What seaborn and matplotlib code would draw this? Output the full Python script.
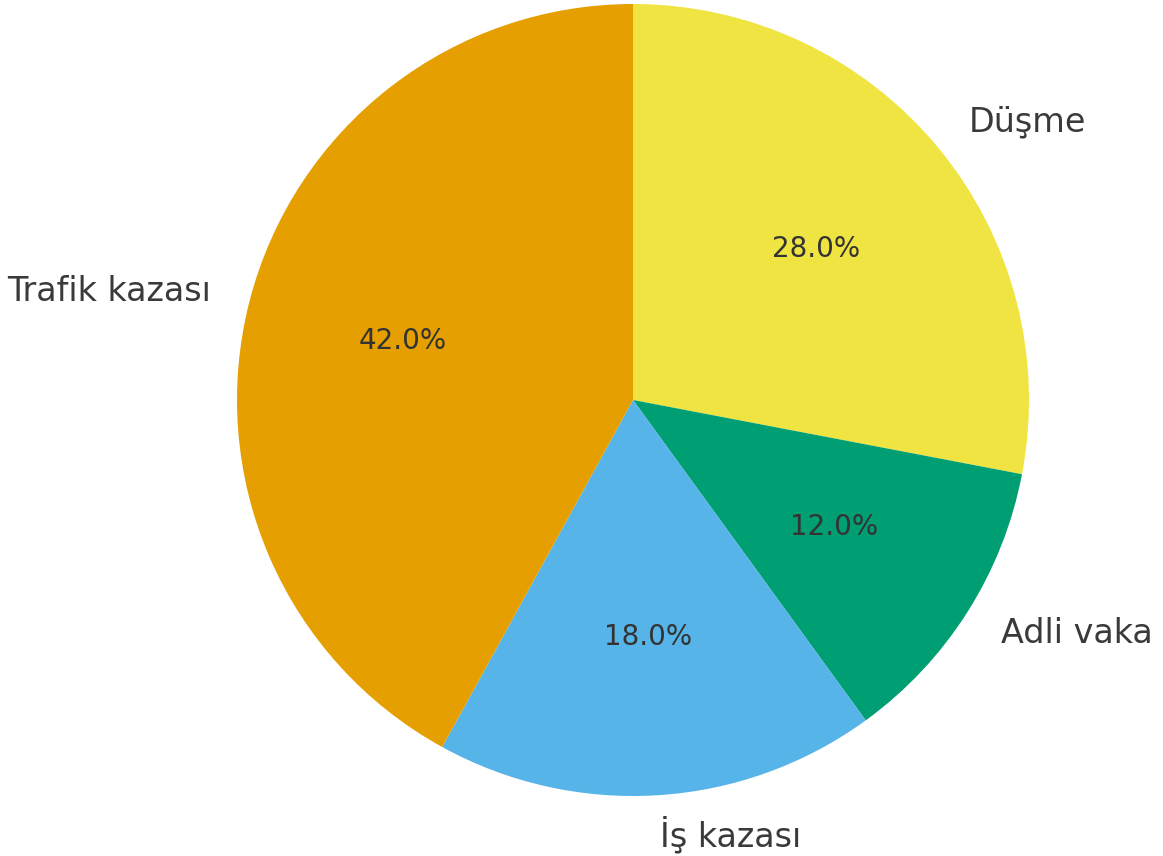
import matplotlib
matplotlib.use("Agg")
import matplotlib.pyplot as plt
import seaborn as sns

# Injury causes and their shares (%)
categories = ["Düşme", "Adli vaka", "İş kazası", "Trafik kazası"]
shares = [28.0, 12.0, 18.0, 42.0]

sns.set_theme(style="white")
plt.rcParams["font.family"] = ["DejaVu Sans"]

colors = ["#F0E442", "#009E73", "#56B4E9", "#E69F00"]

fig = plt.figure(figsize=(11.63, 8.56), dpi=100)
ax = fig.add_axes([0, 0, 1, 1])

wedges, texts, autotexts = ax.pie(
    shares,
    labels=categories,
    colors=colors,
    startangle=90,
    counterclock=False,
    autopct="%1.1f%%",
    pctdistance=0.6,
    labeldistance=1.1,
    wedgeprops={"linewidth": 0, "edgecolor": "none"},
    textprops={"color": "#3a3a3a"},
)
for t in texts:
    t.set_fontsize(24)
for t in autotexts:
    t.set_fontsize(20)
    t.set_color("#333333")

# place the pie: center at (633, 400) px from top-left, radius 396 px
r = 396.0
ax.set_xlim(-633 / r, (1163 - 633) / r)
ax.set_ylim(-(856 - 400) / r, 400 / r)
ax.set_aspect("equal")
ax.axis("off")

fig.savefig("out.png", dpi=100)
